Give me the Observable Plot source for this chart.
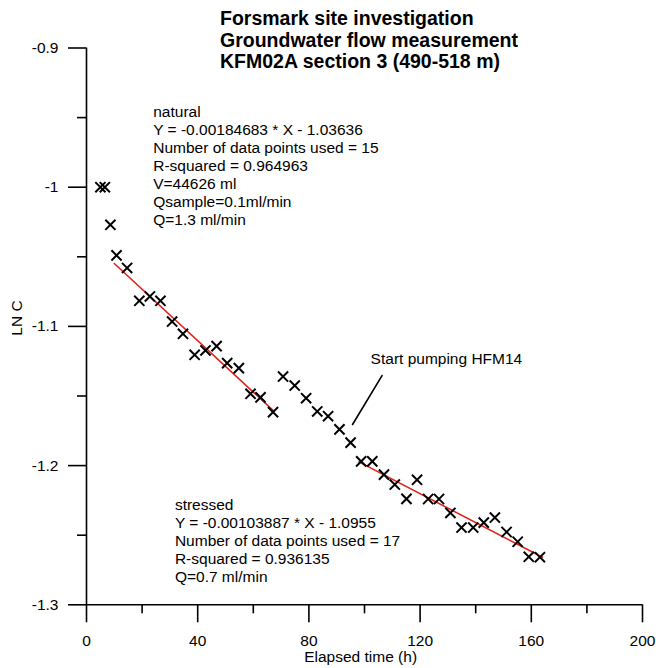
<!DOCTYPE html>
<html>
<head>
<meta charset="utf-8">
<script src="https://cdn.jsdelivr.net/npm/d3@7"></script>
<script src="https://cdn.jsdelivr.net/npm/@observablehq/plot@0.6"></script>
<style>
  html, body { margin: 0; padding: 0; background: #fff; }
  #wrap { position: relative; width: 656px; height: 668px; font-family: "Liberation Sans", Arial, sans-serif; }
  #title { position: absolute; left: 220px; top: 8px; font-weight: bold; font-size: 19.5px; line-height: 21.5px; color: #000; white-space: nowrap; }
  #chart { position: absolute; left: 0; top: 0; }
</style>
</head>
<body>
<div id="wrap">
  <div id="chart"></div>
  <div id="title"></div>
</div>
<script>
// ---- data ----
const titleLines = ["Forsmark site investigation", "Groundwater flow measurement", "KFM02A section 3 (490-518 m)"];
const xLabel = "Elapsed time (h)";
const yLabel = "LN C";

const hours = [5, 6.6, 8.6, 10.8, 14.6, 19, 22.8, 26.6, 30.8, 34.7, 38.9, 42.8, 46.8, 50.6, 54.8, 59, 62.6, 67.1,
  70.7, 74.9, 79, 83, 86.9, 91, 95,
  98.8, 102.8, 107, 110.9, 115.1, 118.9, 122.9, 126.8, 130.9, 134.9, 139.1, 142.9, 146.9, 151.1, 155.1, 159.1, 163.1];
const lnC = [-1.000, -1.000, -1.027, -1.049, -1.058, -1.0816, -1.0785, -1.0816, -1.0965, -1.1053, -1.1204, -1.1173, -1.1142, -1.1264, -1.130, -1.1484, -1.151, -1.1616,
  -1.136, -1.1425, -1.1516, -1.1611, -1.1645, -1.174, -1.1835,
  -1.197, -1.197, -1.2065, -1.2136, -1.2239, -1.2102, -1.224, -1.224, -1.234, -1.2445, -1.2445, -1.241, -1.2373, -1.2477, -1.2547, -1.2655, -1.2658];

// regression fits printed on the chart
const naturalFit = {slope: -0.00184683, intercept: -1.03636, from: 10, to: 67.5};
const stressedFit = {slope: -0.00103887, intercept: -1.0955, from: 98, to: 164};

const naturalLines = ["natural", "Y = -0.00184683 * X - 1.03636", "Number of data points used = 15", "R-squared = 0.964963", "V=44626 ml", "Qsample=0.1ml/min", "Q=1.3 ml/min"];
const stressedLines = ["stressed", "Y = -0.00103887 * X - 1.0955", "Number of data points used = 17", "R-squared = 0.936135", "Q=0.7 ml/min"];
const pumpLabel = "Start pumping HFM14";

// annotation anchors in data units
const naturalAt = {x: 24.0, y: -0.9401};
const stressedAt = {x: 31.8, y: -1.2229};
const pumpAt = {x: 102.2, y: -1.1231};
const pumpPointer = [{x: 106.3, y: -1.1353}, {x: 95.7, y: -1.1705}];
const xLabelAt = {x: 98.6, y: -1.3376};
const yLabelAt = {x: -25.0, y: -1.094};

const xMajor = [0, 40, 80, 120, 160, 200];
const xMinor = [20, 60, 100, 140, 180];
const yMajor = [-0.9, -1, -1.1, -1.2, -1.3];
const yMinor = [-0.95, -1.05, -1.15, -1.25];

// ---- build ----
const points = hours.map((h, i) => ({x: h, y: lnC[i]}));
const fitLine = f => [f.from, f.to].map(x => ({x, y: f.slope * x + f.intercept}));
const red = "#e3231b";
const fs = 15.5;

document.getElementById("title").innerHTML = titleLines.join("<br>");

const chart = Plot.plot({
  width: 656,
  height: 668,
  marginLeft: 86,
  marginRight: 14,
  marginTop: 47.5,
  marginBottom: 63.7,
  style: {fontFamily: "'Liberation Sans', Arial, sans-serif", fontSize: fs + "px", background: "transparent", color: "#000", overflow: "visible"},
  x: {domain: [0, 200], axis: null},
  y: {domain: [-1.3, -0.9], axis: null},
  marks: [
    Plot.axisY(yMajor, {tickSize: 18, tickPadding: 10, tickFormat: d => String(d), label: null, strokeWidth: 1.6, fontSize: fs}),
    Plot.axisY(yMinor, {tickSize: 9, tickFormat: () => "", label: null, strokeWidth: 1.6}),
    Plot.axisX(xMajor, {tickSize: 18, tickPadding: 12, tickFormat: d => String(d), label: null, strokeWidth: 1.6, fontSize: fs}),
    Plot.axisX(xMinor, {tickSize: 9, tickFormat: () => "", label: null, strokeWidth: 1.6}),
    Plot.ruleX([0], {y1: -1.3, y2: -0.9, strokeWidth: 1.6}),
    Plot.ruleY([-1.3], {x1: 0, x2: 200, strokeWidth: 1.6}),
    Plot.line(fitLine(naturalFit), {x: "x", y: "y", stroke: red, strokeWidth: 1.6}),
    Plot.line(fitLine(stressedFit), {x: "x", y: "y", stroke: red, strokeWidth: 1.6}),
    Plot.dot(points, {x: "x", y: "y", symbol: "times", r: 4.7, stroke: "#000", strokeWidth: 2}),
    Plot.line(pumpPointer, {x: "x", y: "y", stroke: "#000", strokeWidth: 1.6}),
    Plot.text([naturalLines.join("\n")], {x: naturalAt.x, y: naturalAt.y, textAnchor: "start", lineAnchor: "top", lineHeight: 1.161, fontSize: fs, fill: "#000"}),
    Plot.text([stressedLines.join("\n")], {x: stressedAt.x, y: stressedAt.y, textAnchor: "start", lineAnchor: "top", lineHeight: 1.161, fontSize: fs, fill: "#000"}),
    Plot.text([pumpLabel], {x: pumpAt.x, y: pumpAt.y, textAnchor: "start", lineAnchor: "middle", fontSize: fs, fill: "#000"}),
    Plot.text([xLabel], {x: xLabelAt.x, y: xLabelAt.y, textAnchor: "middle", lineAnchor: "middle", fontSize: fs, fill: "#000"}),
    Plot.text([yLabel], {x: yLabelAt.x, y: yLabelAt.y, rotate: -90, textAnchor: "middle", lineAnchor: "middle", fontSize: fs, fill: "#000"})
  ]
});
document.getElementById("chart").appendChild(chart);
</script>
</body>
</html>
